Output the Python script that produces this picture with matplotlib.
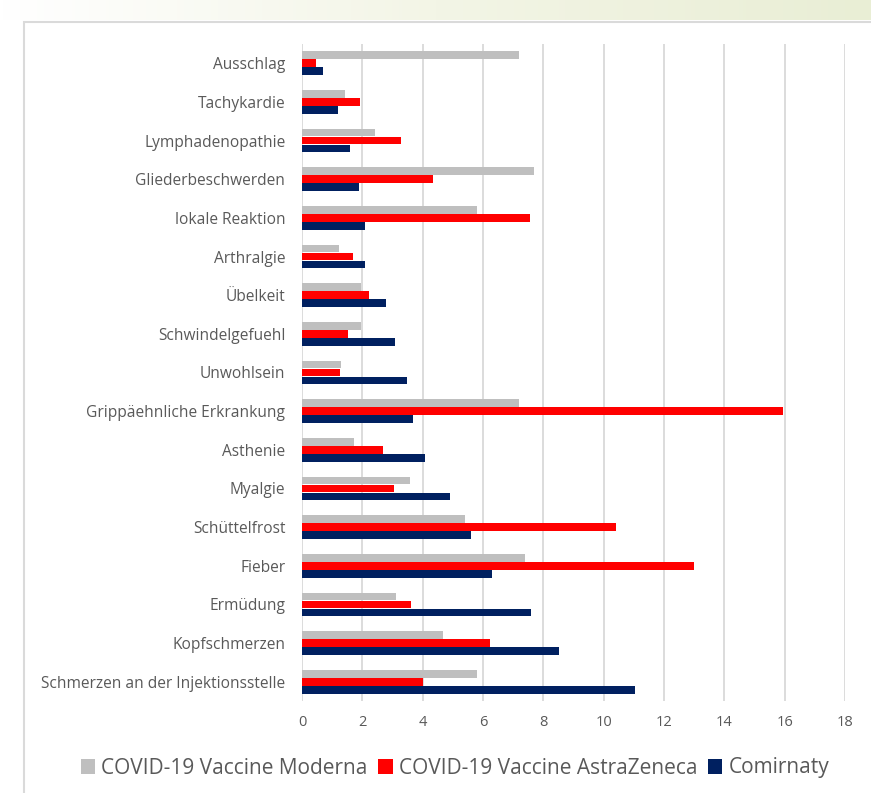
import matplotlib
matplotlib.use("Agg")
import matplotlib.pyplot as plt
import numpy as np
from matplotlib.patches import Rectangle, Patch
from matplotlib.colors import LinearSegmentedColormap

categories = ["Ausschlag", "Tachykardie", "Lymphadenopathie", "Gliederbeschwerden",
              "lokale Reaktion", "Arthralgie", "Übelkeit", "Schwindelgefuehl",
              "Unwohlsein", "Grippäehnliche Erkrankung", "Asthenie", "Myalgie",
              "Schüttelfrost", "Fieber", "Ermüdung", "Kopfschmerzen",
              "Schmerzen an der Injektionsstelle"]
moderna = [7.2, 1.43, 2.41, 7.7, 5.79, 1.23, 1.96, 1.96, 1.29, 7.2, 1.73, 3.58,
           5.4, 7.4, 3.13, 4.68, 5.79]
astrazeneca = [0.46, 1.93, 3.27, 4.33, 7.55, 1.7, 2.23, 1.53, 1.26, 15.95, 2.67, 3.04,
               10.41, 13.0, 3.6, 6.23, 4.0]
comirnaty = [0.69, 1.18, 1.59, 1.89, 2.09, 2.09, 2.79, 3.09, 3.49, 3.69, 4.09, 4.9,
             5.6, 6.3, 7.6, 8.51, 11.04]
series_names = ["COVID-19 Vaccine Moderna", "COVID-19 Vaccine AstraZeneca", "Comirnaty"]
x_ticks = [0, 2, 4, 6, 8, 10, 12, 14, 16, 18]

colors = ["#BFBFBF", "#FF0000", "#002060"]
text_color = "#595959"

plt.rcParams['font.family'] = ['Open Sans', 'DejaVu Sans']

W, H = 871, 793
fig = plt.figure(figsize=(W / 100, H / 100), dpi=100)
fig.patch.set_facecolor("white")

# background axes: top gradient strip + chart frame
bg = fig.add_axes([0, 0, 1, 1], zorder=-10)
bg.axis("off")
cmap = LinearSegmentedColormap.from_list("g", ["#FFFFFF", "#F3F5E6", "#E9EED5"])
bg.imshow(np.linspace(0, 1, 256)[None, :], aspect="auto", cmap=cmap,
          extent=[0, W, 20, 0])
bg.add_patch(Rectangle((24, 22), W, H, facecolor="white",
                       edgecolor="#DADADA", linewidth=1.5))
bg.set_xlim(0, W)
bg.set_ylim(H, 0)

ax = fig.add_axes([302 / W, 1 - 701 / H, (845 - 302) / W, (701 - 44) / H])
ax.set_facecolor("none")
y = np.arange(len(categories))
off = 0.207
h = 0.2
for i, (vals, c, name) in enumerate(zip([moderna, astrazeneca, comirnaty], colors, series_names)):
    ax.barh(y + (i - 1) * off, vals, height=h, color=c, label=name, zorder=3)

ax.set_ylim(len(categories) - 0.5, -0.5)
ax.set_xlim(0, 18)
ax.set_xticks(x_ticks)
ax.set_xticklabels([str(t) for t in x_ticks], color=text_color, fontsize=10.5)
ax.set_yticks(y)
ax.set_yticklabels(categories, color=text_color, fontsize=11.2)
ax.tick_params(axis="y", length=0, pad=12)
ax.tick_params(axis="x", length=0, pad=10)
ax.grid(axis="x", color="#D9D9D9", linewidth=1.3, zorder=0)
for s in ax.spines.values():
    s.set_visible(False)

handles = [Patch(facecolor=c, edgecolor="none") for c in colors]
fig.legend(handles, series_names, loc="center", bbox_to_anchor=(455 / W, 1 - 768 / H),
           ncol=3, frameon=False, fontsize=15, labelcolor=text_color,
           handlelength=0.7, handleheight=0.7, handletextpad=0.3, columnspacing=0.5)

fig.savefig("out.png", dpi=100, facecolor="white")
